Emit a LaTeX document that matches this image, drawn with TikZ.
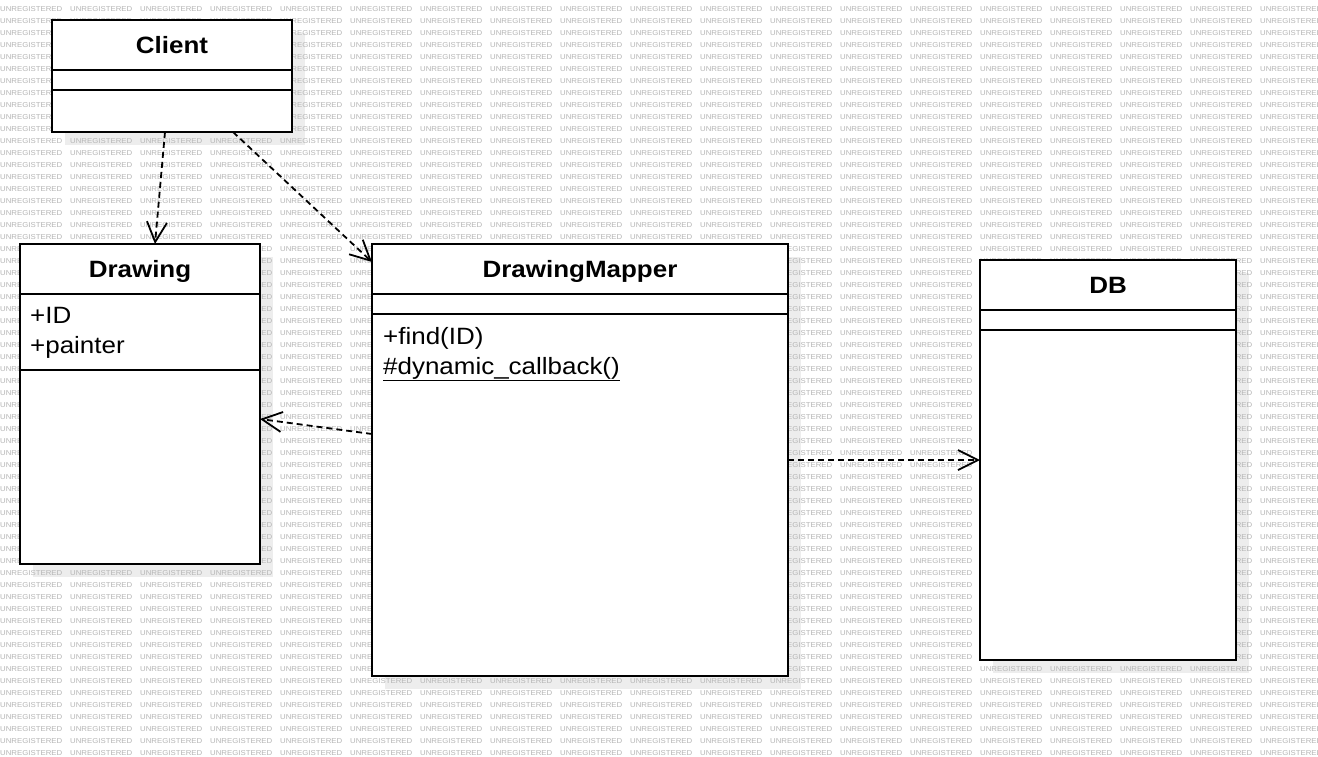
\documentclass[tikz,border=0pt]{standalone}
\usepackage{fontspec}
\setmainfont[FakeStretch=1.1]{Liberation Sans}
\usetikzlibrary{arrows.meta,calc}
\begin{document}
\begin{tikzpicture}[x=1pt,y=-1pt,
  cls/.style={draw=black,line width=2pt,fill=white,rectangle,inner sep=0pt,outer sep=0pt,anchor=north west},
  shad/.style={fill=black!7,draw=none},
  sep/.style={draw=black,line width=2pt},
  title/.style={font=\fontsize{23.6}{30}\selectfont\bfseries,inner sep=0pt,anchor=base},
  member/.style={font=\fontsize{23.6}{30}\selectfont,inner sep=0pt,anchor=base west},
  dep/.style={line width=1.8pt,dash pattern=on 6pt off 4pt,-{Straight Barb[length=20pt,width=20pt,line width=1.8pt]}},
  wm/.style={font=\fontsize{7.1}{8}\selectfont,text=black!29,inner sep=0pt,anchor=west}]
\useasboundingbox (0,0) rectangle (1318,756);
\fill[white] (0,0) rectangle (1318,756);
% shadows
\fill[shad] (65,33) rectangle (305,145);
\fill[shad] (33,257) rectangle (273,577);
\fill[shad] (385,257) rectangle (801,689);
\fill[shad] (993,273) rectangle (1249,673);
% watermark
\foreach \r in {0,...,62}{
  \foreach \c in {0,...,18}{
    \node[wm] (wm-\r-\c) at (\c*70, 9+\r*12) {UNREGISTERED};
  }
}
% Client
\node[cls,minimum width=240pt,minimum height=112pt] (client) at (52,20) {};
\node[title] (clientT) at ($(client.north)+(0,33)$) {Client};
\draw[sep] ($(client.north west)+(0,50)$) -- ($(client.north east)+(0,50)$);
\draw[sep] ($(client.north west)+(0,70)$) -- ($(client.north east)+(0,70)$);
% Drawing
\node[cls,minimum width=240pt,minimum height=320pt] (drawing) at (20,244) {};
\node[title] (drawingT) at ($(drawing.north)+(0,33)$) {Drawing};
\draw[sep] ($(drawing.north west)+(0,50)$) -- ($(drawing.north east)+(0,50)$);
\draw[sep] ($(drawing.north west)+(0,126)$) -- ($(drawing.north east)+(0,126)$);
\node[member] (attrID) at ($(drawing.north west)+(10,79.5)$) {+ID};
\node[member] (attrPainter) at ($(drawing.north west)+(10,109.5)$) {+painter};
% DrawingMapper
\node[cls,minimum width=416pt,minimum height=432pt] (mapper) at (372,244) {};
\node[title] (mapperT) at ($(mapper.north)+(0,33)$) {DrawingMapper};
\draw[sep] ($(mapper.north west)+(0,50)$) -- ($(mapper.north east)+(0,50)$);
\draw[sep] ($(mapper.north west)+(0,70)$) -- ($(mapper.north east)+(0,70)$);
\node[member] (opFind) at ($(mapper.north west)+(11,100)$) {+find(ID)};
\node[member] (opDyn) at ($(mapper.north west)+(11,130)$) {\underline{\#dynamic\_callback()}};
% DB
\node[cls,minimum width=256pt,minimum height=400pt] (db) at (980,260) {};
\node[title] (dbT) at ($(db.north)+(0,33)$) {DB};
\draw[sep] ($(db.north west)+(0,50)$) -- ($(db.north east)+(0,50)$);
\draw[sep] ($(db.north west)+(0,70)$) -- ($(db.north east)+(0,70)$);
% dependencies
\draw[dep] ($(client.south west)+(113,0)$) -- ($(drawing.north west)+(135,0)$);
\draw[dep] ($(client.south west)+(181,0)$) -- ($(mapper.north west)+(0,18)$);
\draw[dep] ($(mapper.north west)+(0,190)$) -- ($(drawing.north east)+(0,175)$);
\draw[dep] ($(mapper.north east)+(0,216)$) -- ($(db.north west)+(0,200)$);
\end{tikzpicture}
\end{document}
